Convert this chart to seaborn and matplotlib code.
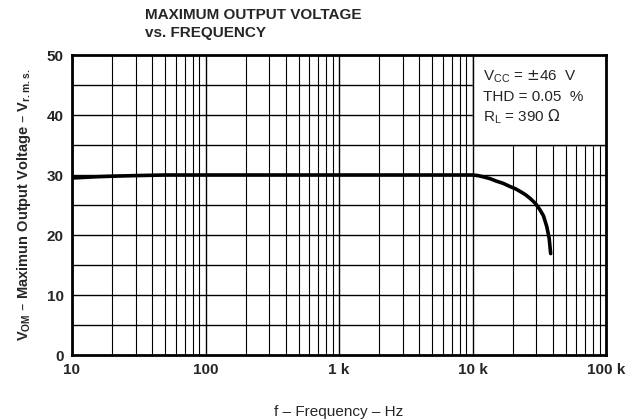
import matplotlib
matplotlib.use("Agg")
import matplotlib.pyplot as plt
import numpy as np
import pandas as pd
import seaborn as sns

# values
freq_hz = [10, 15, 20, 30, 50, 100, 1000, 5000, 10000, 11000, 12000, 13500, 15000,
           17000, 19000, 21000, 23000, 25000, 27000, 29500, 32000, 34000, 36000, 37500, 38500]
vom_rms = [29.5, 29.7, 29.8, 29.9, 30.0, 30.0, 30.0, 30.0, 30.0, 29.9, 29.7, 29.4, 29.0,
           28.6, 28.1, 27.7, 27.2, 26.7, 26.1, 25.3, 24.2, 23.2, 21.4, 19.5, 16.9]

x_ticks = [10, 100, 1000, 10000, 100000]
x_labels = ["10", "100", "1 k", "10 k", "100 k"]
y_ticks = [0, 10, 20, 30, 40, 50]

df = pd.DataFrame({"f": freq_hz, "v": vom_rms})

sns.set_style("white")
plt.rcParams["font.family"] = ["Liberation Sans", "DejaVu Sans"]

fig = plt.figure(figsize=(6.38, 4.19), dpi=100)
ax = fig.add_axes([72 / 638, 1 - 355 / 419, 534 / 638, 300 / 419])

ax.set_xscale("log")
ax.set_xlim(10, 100000)
ax.set_ylim(0, 50)

# grid: every minor decade step vertically, every 5 V horizontally
for dec in [10, 100, 1000, 10000]:
    for k in range(2, 10):
        ax.axvline(dec * k, color="black", lw=0.8, zorder=1)
    ax.axvline(dec, color="black", lw=1.0, zorder=1)
for yv in np.arange(5, 50, 5):
    ax.axhline(yv, color="black", lw=1.0, zorder=1)

# white box for the conditions
ax.fill_between([10000, 100000], 35, 50, color="white", zorder=2)
ax.plot([10000, 10000], [35, 50], color="black", lw=1.0, zorder=2)
ax.plot([10000, 100000], [35, 35], color="black", lw=1.0, zorder=2)

sns.lineplot(data=df, x="f", y="v", ax=ax, color="black", lw=2.6, zorder=3)

ax.text(12000, 45.8, r"V$_{\mathregular{CC}}$ = $\pm$46  V", fontsize=11, zorder=4)
ax.text(12000, 42.3, "THD = 0.05  %", fontsize=11, zorder=4)
ax.text(12000, 39.0, r"R$_{\mathregular{L}}$ = 390 $\Omega$", fontsize=11, zorder=4)

ax.set_xticks(x_ticks)
ax.set_xticklabels(x_labels, fontsize=11, fontweight="bold")
ax.set_yticks(y_ticks)
ax.set_yticklabels([str(t) for t in y_ticks], fontsize=11, fontweight="bold")
ax.minorticks_off()
ax.tick_params(length=0, pad=6)

for s in ax.spines.values():
    s.set_visible(True)
    s.set_color("black")
    s.set_linewidth(2)

ax.set_xlabel("f \u2013 Frequency \u2013 Hz", fontsize=11, labelpad=20)
ax.set_ylabel("V$_{\\mathregular{OM}}$ \u2013 Maximun Output Voltage \u2013 V$_{\\mathregular{r.m.s.}}$",
              fontsize=10.5, fontweight="bold", labelpad=10)

fig.text(145 / 638, 1 - 24 / 419, "MAXIMUM OUTPUT VOLTAGE\nvs. FREQUENCY",
         fontsize=11, fontweight="bold", ha="left", va="center", linespacing=1.3)

fig.savefig("out.png", dpi=100)
